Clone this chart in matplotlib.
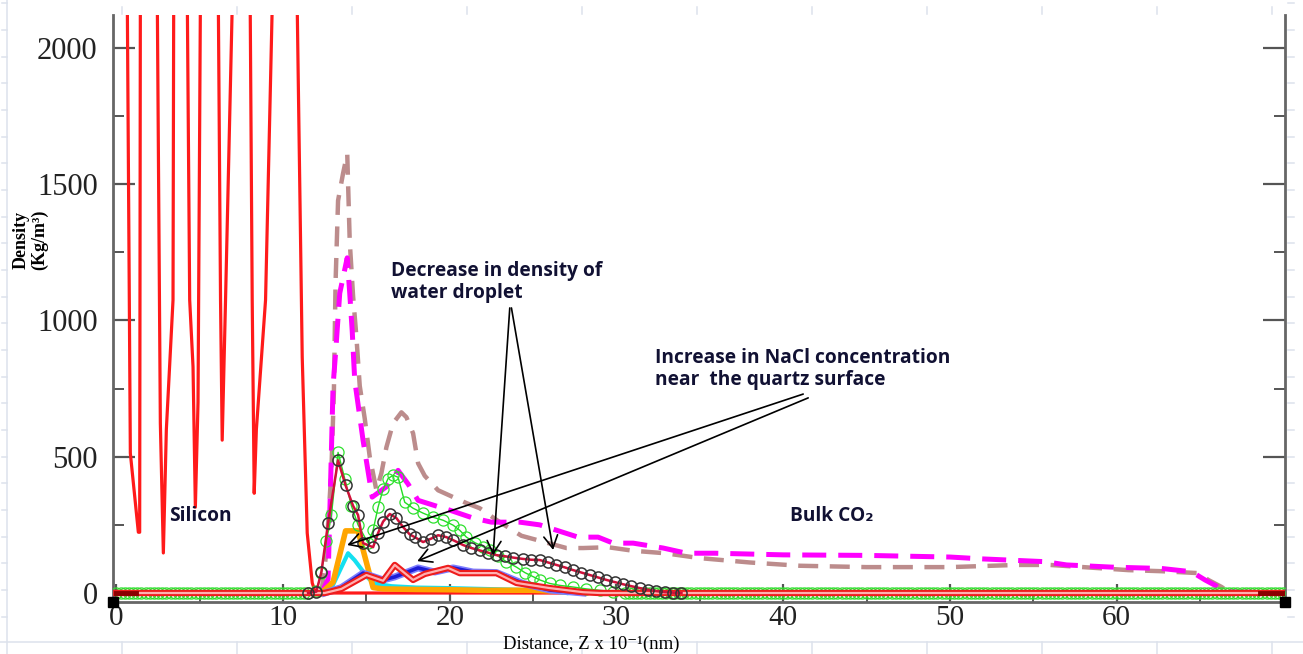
import numpy as np
import matplotlib
matplotlib.use('Agg')
from matplotlib import pyplot as plt
from matplotlib.lines import Line2D
from matplotlib.ticker import MultipleLocator

plt.rcParams['font.family'] = ['Liberation Serif', 'DejaVu Serif']

# silicon slab; values above 2121 only steer the lines out through the top edge
si_z = [0.00, 0.66, 0.84, 1.32, 1.40, 1.44, 1.95, 2.46, 2.64, 2.82, 3.00, 3.40, 3.44,
        3.85, 4.26, 4.40, 4.60, 4.74, 4.90, 5.04, 5.58, 6.12, 6.25, 6.35, 6.55, 6.95,
        7.49, 8.03, 8.15, 8.27, 8.40, 8.95, 9.35, 10.10, 10.85, 11.15, 11.45, 11.75,
        11.95, 70.0]
si_rho = [2600, 2150, 513, 223, 223, 2150, 2600, 2150, 623, 147, 600, 1075, 2150,
          2600, 2150, 1075, 830, 315, 700, 2150, 2600, 2150, 1075, 561, 1075, 2150,
          2600, 2150, 1075, 366, 600, 1075, 2150, 2600, 2150, 866, 220, 37,
          0, 0]

# CO2 profiles (dashed)
co2m_z = [12.3, 12.7, 12.85, 13.0, 13.15, 13.4, 13.85, 14.0, 14.15, 14.3, 14.8, 15.35,
          16.2, 16.9, 17.5, 18.1, 19.4, 20.0, 21.4, 22.5, 24.2, 25.4, 27.7, 28.9, 29.8,
          31.0, 32.8, 34.2, 35.9, 40.0, 45.0, 50.0, 52.0, 55.7, 57.0, 59.7, 62.7, 64.5,
          65.3, 66.0, 66.7, 70.0]
co2m_rho = [0, 50, 400, 760, 880, 1100, 1230, 1100, 960, 780, 560, 352,
            390, 450, 400, 340, 315, 304, 275, 260, 260, 250, 205, 205, 183,
            183, 165, 146, 146, 140, 138, 132, 125, 115, 103, 95, 90, 78,
            48, 25, 5, 0]

co2b_z = [12.3, 12.6, 12.9, 13.05, 13.15, 13.3, 13.6, 13.85, 14.0, 14.2, 14.4, 14.6,
          14.9, 15.2, 15.6, 15.9, 16.2, 16.6, 17.1, 17.4, 17.8, 18.1, 18.5, 19.3, 20.2,
          21.0, 21.8, 23.0, 24.3, 25.5, 27.0, 28.0, 29.5, 31.0, 32.9, 35.0, 38.0, 41.0,
          45.0, 50.0, 54.0, 56.0, 58.0, 60.7, 62.7, 64.9, 65.5, 66.3, 66.8, 70.0]
co2b_rho = [0, 150, 450, 740, 1140, 1440, 1540, 1612, 1290, 1090, 940, 760,
            640, 500, 377, 440, 535, 623, 663, 645, 586, 476, 430, 377, 352,
            330, 311, 260, 210, 190, 165, 165, 168, 155, 146, 128, 112, 100,
            95, 95, 103, 103, 95, 84, 80, 73, 48, 22, 0, 0]

# water profiles (open circles)
wat_g_z = [11.5, 12.0, 12.3, 12.6, 12.9, 13.3, 13.7, 14.1, 14.5, 15.1, 15.4, 15.7,
           16.0, 16.3, 16.6, 16.9, 17.3, 17.8, 18.4, 19.0, 19.6, 20.2, 20.6, 21.0,
           21.5, 22.0, 22.4, 22.9, 23.4, 24.0, 24.5, 25.0, 25.4, 26.0, 26.6, 27.4,
           28.2, 29.0, 29.8, 30.5]
wat_g_rho = [0, 8, 75, 190, 285, 516, 420, 320, 250, 183, 230, 315,
             380, 420, 432, 425, 333, 311, 293, 278, 267, 249, 230, 205,
             185, 170, 157, 135, 115, 95, 75, 60, 48, 35, 28, 22,
             15, 10, 5, 0]
# empty bins either side of the droplet, 0.25 apart
bins_left = np.arange(0.0, 11.5, 0.25)
bins_right = np.arange(30.75, 70.01, 0.25)

wat_k_z = [11.5, 12.0, 12.3, 12.7, 13.3, 13.75, 14.2, 14.5, 14.8, 15.4, 15.7, 16.0,
           16.4, 16.8, 17.2, 17.6, 17.9, 18.4, 18.9, 19.3, 19.8, 20.2, 20.8, 21.3,
           21.8, 22.3, 22.8, 23.3, 23.8, 24.4, 24.9, 25.4, 25.9, 26.4, 26.9, 27.4,
           27.9, 28.4, 28.9, 29.4, 29.9, 30.4, 30.9, 31.4, 31.9, 32.4, 32.9, 33.4,
           33.9]
wat_k_rho = [0, 5, 77, 256, 487, 395, 320, 286, 183, 168, 220, 262,
             290, 275, 242, 215, 205, 187, 200, 212, 205, 194, 176, 165,
             156, 148, 139, 135, 130, 125, 122, 121, 112, 103, 94, 84,
             75, 66, 57, 48, 40, 32, 25, 18, 12, 7, 3, 1,
             0]

# ions
ion_o_z = [12.3, 13.0, 13.75, 14.5, 15.4, 16.0, 18.0, 20.0, 22.0, 25.0, 27.0, 28.0]
ion_o_rho = [0, 40, 228, 228, 20, 15, 13, 12, 10, 10, 5, 0]
ion_c_z = [12.3, 13.0, 13.9, 14.3, 15.1, 15.5, 16.5, 18.0, 20.0, 22.0, 24.0, 26.0, 27.0]
ion_c_rho = [0, 30, 146, 120, 55, 35, 25, 20, 18, 15, 12, 8, 0]
ion_b_z = [12.5, 13.5, 14.8, 16.0, 16.7, 18.1, 19.1, 20.2, 21.4, 22.8, 23.4, 24.4, 26.0, 28.0]
ion_b_rho = [0, 20, 73, 48, 59, 92, 77, 92, 77, 75, 60, 35, 11, 0]
ion_r_z = [0.0, 12.5, 13.5, 15.0, 16.0, 16.7, 17.8, 18.5, 19.9, 20.6, 22.8, 24.0,
           26.0, 28.0, 29.0, 70.0]
ion_r_rho = [0, 0, 15, 66, 45, 103, 48, 70, 92, 73, 73, 37,
             18, 3, 0, 0]
edge_z = [[0.0, 1.2], [68.6, 70.0]]

W, H = 1303, 654
fig = plt.figure(figsize=(W / 100, H / 100), dpi=100)
fig.patch.set_facecolor('white')

# faint sheet grid around the chart box
grid_c = '#dde2ec'
def px_line(x0, y0, x1, y1):
    fig.add_artist(Line2D([x0 / W, x1 / W], [1 - y0 / H, 1 - y1 / H],
                          transform=fig.transFigure, color=grid_c, lw=1.1))
px_line(7, 0, 7, 654)
px_line(0, 642, W, 642)
for k in range(24):
    y = 3.3 + 26.67 * k
    px_line(2, y, 7, y)
    px_line(1288, y, 1294, y)
for k in range(11):
    x = 122 + 115 * k
    px_line(x, 7, x, 14)
    px_line(x, 642, x, 654)

ax = fig.add_axes([113 / W, 1 - 602 / H, (1285 - 113) / W, (602 - 15) / H])
ax.set_facecolor('white')

ax.plot(si_z, si_rho, color='#ff1a1a', lw=2.3, zorder=2)
ax.plot(co2b_z, co2b_rho, color='#bc8c8c', lw=3.2, dashes=(4.5, 2.6), zorder=3)
ax.plot(co2m_z, co2m_rho, color='#ff00ff', lw=3.6, dashes=(4.8, 2.4), zorder=3)
ax.plot(ion_c_z, ion_c_rho, color='#14e0f0', lw=3, zorder=4)
ax.plot(ion_o_z, ion_o_rho, color='#ffa500', lw=4, zorder=5)
ax.plot(ion_b_z, ion_b_rho, color='#7d7dff', lw=5, zorder=6)
ax.plot(ion_b_z, ion_b_rho, color='#1c1cd6', lw=2.6, zorder=6)

green_z = np.concatenate([bins_left, wat_g_z, bins_right])
green_rho = np.concatenate([np.zeros(len(bins_left)), wat_g_rho, np.zeros(len(bins_right))])
ax.plot(green_z, green_rho, color='#22dd22', lw=1, marker='o', ms=8,
        mfc='none', mec='#2ee02e', mew=0.9, zorder=7)

ax.plot(ion_r_z, ion_r_rho, color='#ee1c1c', lw=4.6, zorder=8)
ax.plot(ion_r_z, ion_r_rho, color='#ffb0b0', lw=1.6, zorder=8)
for seg in edge_z:
    ax.plot(seg, [0, 0], color='#8b0000', lw=3.5, zorder=8)

ax.plot(wat_k_z, wat_k_rho, color='#d0103a', lw=1.8, marker='o', ms=8,
        mfc='none', mec='#333333', mew=1.1, zorder=9)

# corner handles
ax.plot([0, 1], [0, 0], 's', color='black', ms=7, transform=ax.transAxes,
        clip_on=False, zorder=10)

ax.set_xlim(-0.2, 70.1)
ax.set_ylim(-33, 2121)
ax.xaxis.set_major_locator(MultipleLocator(10))
ax.xaxis.set_minor_locator(MultipleLocator(5))
ax.yaxis.set_major_locator(MultipleLocator(500))
ax.yaxis.set_minor_locator(MultipleLocator(250))
ax.set_xticks(range(0, 70, 10))

for side in ['left', 'bottom', 'right']:
    ax.spines[side].set_color('#666666')
    ax.spines[side].set_linewidth(2)
ax.spines['top'].set_visible(False)

ax.tick_params(axis='y', which='major', direction='in', length=16, width=1.6,
               color='#555555', right=True, labelsize=22, pad=11, labelcolor='#222222')
ax.tick_params(axis='y', which='minor', direction='in', length=8, width=1.4,
               color='#555555', right=True)
ax.tick_params(axis='x', which='major', direction='in', length=13, width=1.6,
               color='#555555', labelsize=21, pad=2, labelcolor='#222222')
ax.tick_params(axis='x', which='minor', direction='in', length=7, width=1.4,
               color='#555555')

fig.text(30 / W, 1 - 240 / H, 'Density\n(Kg/m³)', rotation=90, ha='center',
         va='center', fontsize=13, fontweight='bold', linespacing=1.1)
fig.text(503 / W, 1 - 653 / H, 'Distance, Z x 10⁻¹(nm)', ha='left',
         va='bottom', fontsize=13.5)

note = dict(family=['Open Sans', 'DejaVu Sans'], fontweight='bold', fontsize=13.8,
            color='#111133')
ax.text(5.04, 283, 'Silicon', ha='center', va='center', **note)
ax.text(42.9, 283, 'Bulk CO₂', ha='center', va='center', **note)
ax.text(16.5, 1141, 'Decrease in density of\nwater droplet', ha='left',
        va='center', linespacing=1.1, **note)
ax.text(32.3, 822, 'Increase in NaCl concentration\nnear  the quartz surface',
        ha='left', va='center', linespacing=1.1, **note)

arrow = dict(arrowstyle='->,head_length=0.9,head_width=0.5', color='black',
             lw=1.2, shrinkA=0, shrinkB=0)
ax.annotate('', xy=(22.6, 139), xytext=(23.6, 1046), arrowprops=arrow, zorder=11)
ax.annotate('', xy=(26.2, 158), xytext=(23.7, 1046), arrowprops=arrow, zorder=11)
ax.annotate('', xy=(13.85, 176), xytext=(41.2, 730), arrowprops=arrow, zorder=11)
ax.annotate('', xy=(18.05, 117), xytext=(41.5, 716), arrowprops=arrow, zorder=11)

fig.savefig('out.png', dpi=100)
